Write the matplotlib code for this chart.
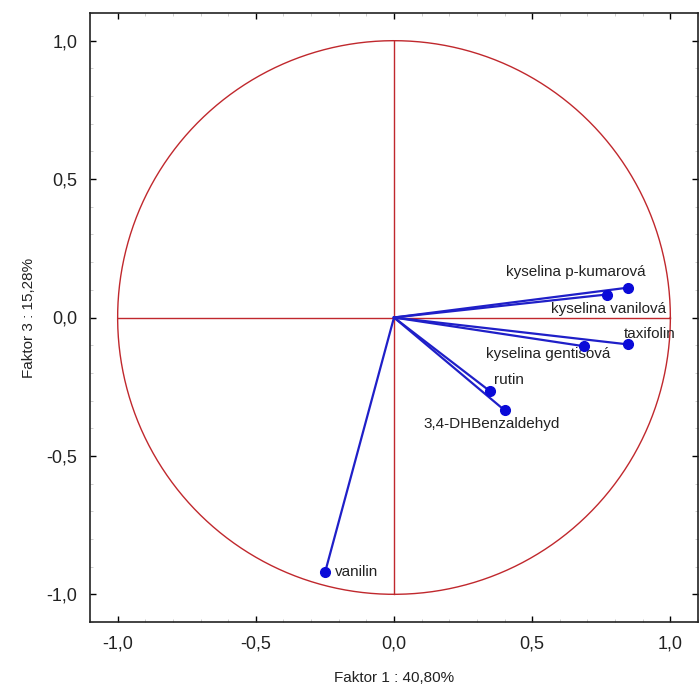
import numpy as np
import matplotlib
matplotlib.use("Agg")
import matplotlib.pyplot as plt
from matplotlib.ticker import MultipleLocator, FuncFormatter

plt.rcParams['font.family'] = ['Liberation Sans', 'DejaVu Sans']

labels = ["kyselina p-kumarová", "kyselina vanilová", "taxifolin",
          "kyselina gentisová", "rutin", "3,4-DHBenzaldehyd", "vanilin"]
f1 = [0.848, 0.769, 0.845, 0.689, 0.347, 0.400, -0.249]
f3 = [0.108, 0.083, -0.097, -0.104, -0.266, -0.335, -0.919]

# label offsets in pixels (style)
offsets = [(-122, 16), (-56, -14), (-4, 10), (-98, -8), (4, 11), (-81, -14), (10, 0)]

fig = plt.figure(figsize=(7.0, 6.89), dpi=100)
ax = fig.add_axes([90/700, 67/689, 608/700, 609/689])

red = '#c0282d'
blue = '#1f1fc8'
t = np.linspace(0, 2*np.pi, 400)
ax.plot(np.cos(t), np.sin(t), color=red, lw=1.0)
ax.plot([-1, 1], [0, 0], color=red, lw=1.0)
ax.plot([0, 0], [-1, 1], color=red, lw=1.0)

for x, y, lab, (dx, dy) in zip(f1, f3, labels, offsets):
    ax.plot([0, x], [0, y], color=blue, lw=1.6)
    ax.plot([x], [y], 'o', color='#0a0ad8', ms=7, zorder=5)
    ax.annotate(lab, (x, y), xytext=(dx, dy), textcoords='offset pixels',
                ha='left', va='center', fontsize=11, color='#222222')

ax.set_xlim(-1.1, 1.1)
ax.set_ylim(-1.1, 1.1)
ax.xaxis.set_major_locator(MultipleLocator(0.5))
ax.yaxis.set_major_locator(MultipleLocator(0.5))
ax.xaxis.set_minor_locator(MultipleLocator(0.1))
ax.yaxis.set_minor_locator(MultipleLocator(0.1))
fmt = FuncFormatter(lambda v, p: f"{v:.1f}".replace('.', ',').replace('-0,0', '0,0'))
ax.xaxis.set_major_formatter(fmt)
ax.yaxis.set_major_formatter(fmt)
ax.tick_params(which='major', direction='in', length=4, width=1, top=True, right=True,
               labelsize=13, labelcolor='#222222')
ax.tick_params(axis='x', which='major', pad=10)
ax.tick_params(axis='y', which='major', pad=9)
ax.tick_params(which='minor', direction='in', length=2, width=0.5, top=True, right=True,
               color='#bbbbbb')
for s in ax.spines.values():
    s.set_linewidth(1.2)
    s.set_color('#222222')

ax.set_xlabel("Faktor 1 : 40,80%", fontsize=11, color='#222222', labelpad=13)
ax.set_ylabel("Faktor 3 : 15,28%", fontsize=11, color='#222222', labelpad=8)

fig.savefig("out.png", dpi=100)
